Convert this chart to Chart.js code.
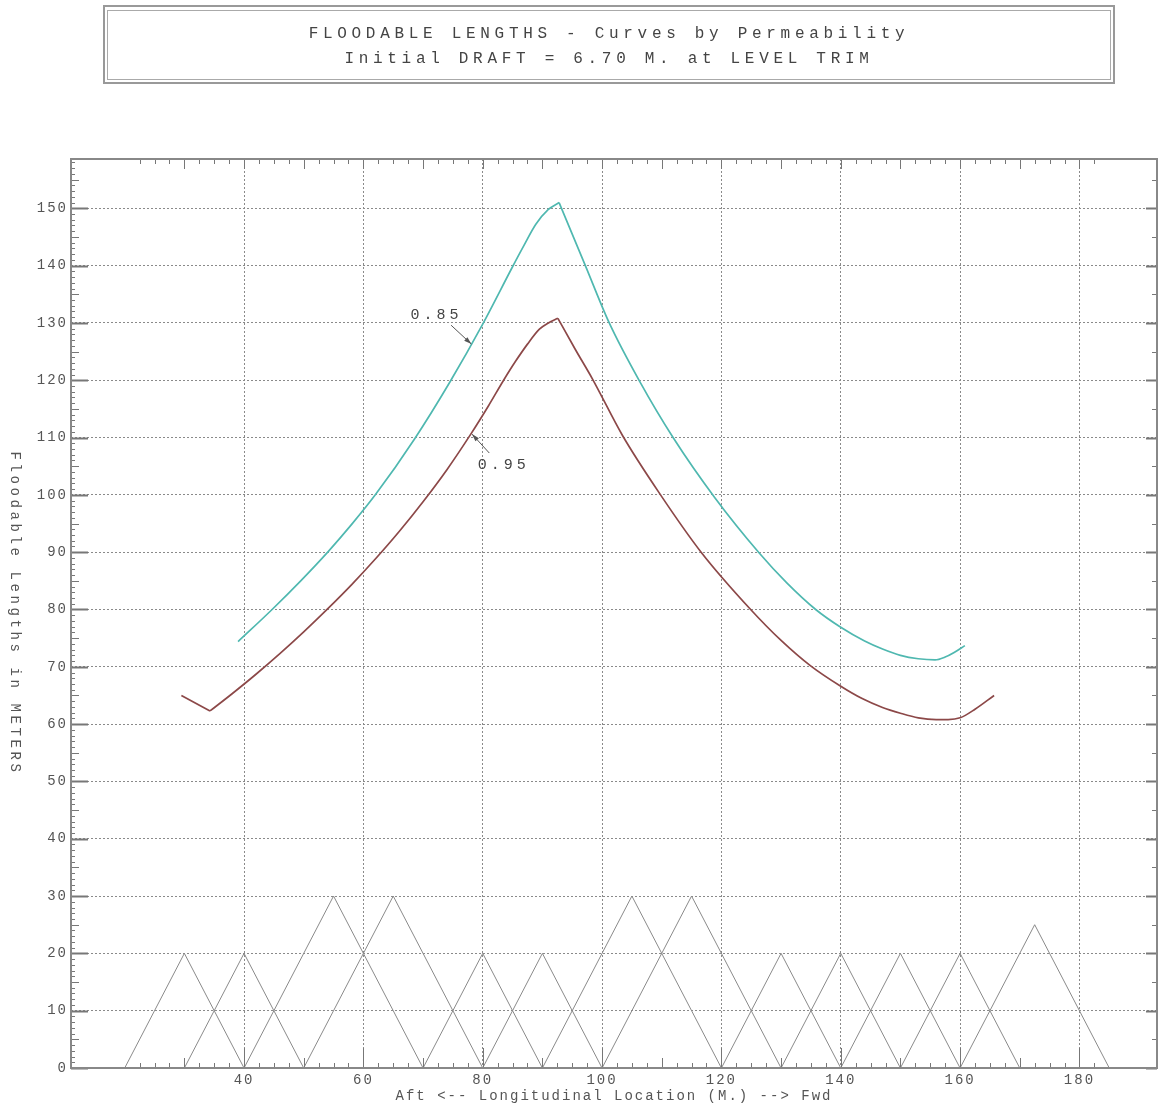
<!DOCTYPE html>
<html>
<head>
<meta charset="utf-8">
<title>Floodable Lengths</title>
<script src="https://cdn.jsdelivr.net/npm/chart.js@4.4.1/dist/chart.umd.min.js"></script>
<style>
  html, body { margin: 0; padding: 0; background: #fff; }
  #wrap { position: relative; width: 1158px; height: 1106px; }
  #chartBox { position: absolute; left: 0; top: 0; width: 1158px; height: 1106px; }
  #titleBox { position: absolute; left: 103px; top: 5px; width: 1012px; height: 79px; box-sizing: border-box; border: 2px solid #999; }
  #titleBox .inner { position: absolute; left: 2px; top: 3px; right: 2px; bottom: 2px; border: 1px solid #aaa; }
  #titleBox p { margin: 0; position: absolute; left: 0; right: 0; text-align: center; font: 16px "Liberation Mono", monospace; letter-spacing: 4.7px; color: #444; line-height: 18px; }
</style>
</head>
<body>
<div id="wrap">
  <div id="chartBox"><canvas id="floodChart"></canvas></div>
  <div id="titleBox">
    <div class="inner"></div>
    <p style="top:18px">FLOODABLE LENGTHS - Curves by Permeability</p>
    <p style="top:43px">Initial DRAFT = 6.70 M. at LEVEL TRIM</p>
  </div>
</div>
<script>
// permeability 0.85 curve
var x85 = [39, 44.7, 49.5, 54.1, 58, 62, 68.6, 74.5, 80, 85, 86.8, 88.9, 91, 92.8, 97.2, 101.2, 106.3, 111.9, 118.9, 126.3, 131, 135.8, 140, 144, 147, 150, 153, 155.8, 157.5, 159, 160.8]
var y85 = [74.4, 80, 85, 90.1, 94.8, 100, 109.8, 119.7, 129.8, 139.8, 143.3, 147.2, 149.8, 151, 140, 130, 119.8, 110, 99.5, 89.9, 84.6, 80, 76.9, 74.5, 73.1, 72, 71.4, 71.2, 71.7, 72.5, 73.7]
// permeability 0.95 curve
var x95 = [29.5, 34.3, 38, 42, 46, 50, 54, 58, 62, 66, 70, 74, 78, 81, 83.5, 85.5, 87.5, 89.5, 91, 92.6, 95.5, 98.4, 103.4, 109.8, 116.6, 124.9, 130, 134.9, 140, 143.5, 147, 150, 153, 156, 158, 160, 162.5, 165.7]
var y95 = [65, 62.3, 65.3, 68.7, 72.3, 76.1, 80.1, 84.3, 88.8, 93.6, 98.8, 104.4, 110.6, 115.6, 120, 123.3, 126.3, 128.9, 130, 130.8, 125.4, 120.2, 110.4, 100, 90, 80, 74.6, 70.2, 66.6, 64.5, 62.9, 61.9, 61.1, 60.8, 60.8, 61.1, 62.6, 65]
// compartment triangles (aft end, fwd end, length)
var compStart = [20, 30, 40, 50, 70, 80, 90, 100, 120, 130, 140, 150, 160]
var compEnd = [40, 50, 70, 80, 90, 100, 120, 130, 140, 150, 160, 170, 185]
var compHeight = [20, 20, 30, 30, 20, 20, 30, 30, 20, 20, 20, 20, 25]
// axis ticks
var xTickValues = [40, 60, 80, 100, 120, 140, 160, 180]
var yTickValues = [0, 10, 20, 30, 40, 50, 60, 70, 80, 90, 100, 110, 120, 130, 140, 150]
// curve labels with arrows
var curveLabels = ["0.85", "0.95"]
var labelX = [71.9, 83.2]
var labelY = [131.3, 105.2]
var arrowFromX = [74.7, 81.1]
var arrowFromY = [129.6, 107.3]
var arrowToX = [78.1, 78.2]
var arrowToY = [126.3, 110.6]

var xTitle = "Aft <-- Longitudinal Location (M.) --> Fwd"
var yTitle = "Floodable Lengths in METERS"

var monoFont = '"Liberation Mono", "DejaVu Sans Mono", monospace'

function toPoints(xs, ys) {
    return xs.map(function (x, i) { return { x: x, y: ys[i] }; });
}

// split a curve at its corner points so the knuckles stay sharp
function curvePieces(xs, ys, color, cuts) {
    var pts = toPoints(xs, ys)
    var bounds = [0].concat(cuts, [pts.length - 1])
    var out = []
    for (var i = 0; i < bounds.length - 1; i++) {
        out.push({
            data: pts.slice(bounds[i], bounds[i + 1] + 1),
            borderColor: color,
            borderWidth: 1.7,
            pointRadius: 0,
            showLine: true,
            cubicInterpolationMode: "monotone",
            order: 1
        })
    }
    return out
}

function peakIndex(ys) {
    return ys.indexOf(Math.max.apply(null, ys))
}

var datasets = []
compStart.forEach(function (s, i) {
    datasets.push({
        data: [{ x: s, y: 0 }, { x: (s + compEnd[i]) / 2, y: compHeight[i] }, { x: compEnd[i], y: 0 }],
        borderColor: "#8a8a8a",
        borderWidth: 1,
        pointRadius: 0,
        showLine: true,
        order: 3
    })
})
datasets = datasets.concat(curvePieces(x85, y85, "#4fb8b0", [peakIndex(y85)]))
datasets = datasets.concat(curvePieces(x95, y95, "#8c4848", [1, peakIndex(y95)]))

function setSpacing(chart) {
    chart.ctx.letterSpacing = "2px"
}

var textSpacing = {
    id: "textSpacing",
    beforeLayout: setSpacing,
    beforeDraw: setSpacing
}

function tick(ctx, x1, y1, x2, y2) {
    ctx.beginPath()
    ctx.moveTo(x1, y1)
    ctx.lineTo(x2, y2)
    ctx.stroke()
}

var frameTicks = {
    id: "frameTicks",
    afterDatasetsDraw(chart) {
        const ctx = chart.ctx, a = chart.chartArea
        const xs = chart.scales.x, ys = chart.scales.y
        ctx.save()
        ctx.strokeStyle = "#777"
        // left: every 1, longer at 5 and 10
        for (let v = 0; v <= ys.max; v += 1) {
            const py = Math.round(ys.getPixelForValue(v)) + 0.5
            ctx.lineWidth = v % 10 === 0 ? 2 : 1
            tick(ctx, a.left, py, a.left + (v % 10 === 0 ? 17 : v % 5 === 0 ? 8 : 4), py)
        }
        // right: every 5
        for (let v = 0; v <= ys.max; v += 5) {
            const py = Math.round(ys.getPixelForValue(v)) + 0.5
            ctx.lineWidth = v % 10 === 0 ? 2 : 1
            tick(ctx, a.right, py, a.right - (v % 10 === 0 ? 11 : 5), py)
        }
        // bottom and top: every 2.5
        ctx.lineWidth = 1
        for (let v = 22.5; v <= 182.5; v += 2.5) {
            const px = Math.round(xs.getPixelForValue(v)) + 0.5
            tick(ctx, px, a.bottom, px, a.bottom - (v % 20 === 0 ? 20 : v % 10 === 0 ? 10 : 5))
            tick(ctx, px, a.top, px, a.top + (v % 10 === 0 ? 10 : 5))
        }
        ctx.lineWidth = 2
        ctx.strokeStyle = "#888"
        ctx.strokeRect(a.left, a.top, a.right - a.left, a.bottom - a.top)
        ctx.restore()
    },
    afterDraw(chart) {
        const ctx = chart.ctx, a = chart.chartArea
        const xs = chart.scales.x, ys = chart.scales.y
        ctx.save()
        // y axis title, reads top to bottom
        ctx.letterSpacing = "3.6px"
        ctx.font = "14px " + monoFont
        ctx.fillStyle = "#555"
        ctx.textAlign = "center"
        ctx.textBaseline = "middle"
        ctx.translate(15, (a.top + a.bottom) / 2)
        ctx.rotate(Math.PI / 2)
        ctx.fillText(yTitle, 0, 0)
        ctx.restore()

        ctx.save()
        ctx.letterSpacing = "4px"
        ctx.font = "15px " + monoFont
        ctx.fillStyle = "#444"
        ctx.strokeStyle = "#555"
        ctx.textAlign = "center"
        ctx.textBaseline = "middle"
        curveLabels.forEach(function (t, i) {
            ctx.fillText(t, xs.getPixelForValue(labelX[i]) + 2, ys.getPixelForValue(labelY[i]))
            const x1 = xs.getPixelForValue(arrowFromX[i]), y1 = ys.getPixelForValue(arrowFromY[i])
            const x2 = xs.getPixelForValue(arrowToX[i]), y2 = ys.getPixelForValue(arrowToY[i])
            ctx.lineWidth = 1
            tick(ctx, x1, y1, x2, y2)
            const ang = Math.atan2(y2 - y1, x2 - x1)
            ctx.beginPath()
            ctx.moveTo(x2, y2)
            ctx.lineTo(x2 - 8 * Math.cos(ang - 0.3), y2 - 8 * Math.sin(ang - 0.3))
            ctx.lineTo(x2 - 8 * Math.cos(ang + 0.3), y2 - 8 * Math.sin(ang + 0.3))
            ctx.closePath()
            ctx.fillStyle = "#555"
            ctx.fill()
            ctx.fillStyle = "#444"
        })
        ctx.restore()
    }
}

new Chart(document.getElementById("floodChart").getContext("2d"), {
    type: "scatter",
    data: { datasets: datasets },
    options: {
        responsive: true,
        maintainAspectRatio: false,
        animation: false,
        layout: { padding: { top: 159, right: 1, left: 0, bottom: 0 } },
        plugins: { legend: { display: false }, tooltip: { enabled: false } },
        scales: {
            x: {
                type: "linear",
                min: 11,
                max: 193,
                afterBuildTicks: function (scale) { scale.ticks = xTickValues.map(function (v) { return { value: v }; }) },
                afterFit: function (scale) { scale.height = 38 },
                ticks: { autoSkip: false, maxRotation: 0, padding: 4, color: "#555", font: { family: monoFont, size: 14 } },
                grid: { color: "#8a8a8a", lineWidth: 1, drawTicks: false },
                border: { display: false, dash: [2, 2] },
                title: { display: true, text: xTitle, color: "#555", font: { family: monoFont, size: 14 }, padding: { top: 0, bottom: 1 } }
            },
            y: {
                type: "linear",
                min: 0,
                max: 158.6,
                afterBuildTicks: function (scale) { scale.ticks = yTickValues.map(function (v) { return { value: v }; }) },
                afterFit: function (scale) { scale.width = 71 },
                ticks: { autoSkip: false, padding: 3, color: "#555", font: { family: monoFont, size: 14 } },
                grid: { color: "#8a8a8a", lineWidth: 1, drawTicks: false },
                border: { display: false, dash: [2, 2] }
            }
        }
    },
    plugins: [textSpacing, frameTicks]
})
</script>
</body>
</html>
